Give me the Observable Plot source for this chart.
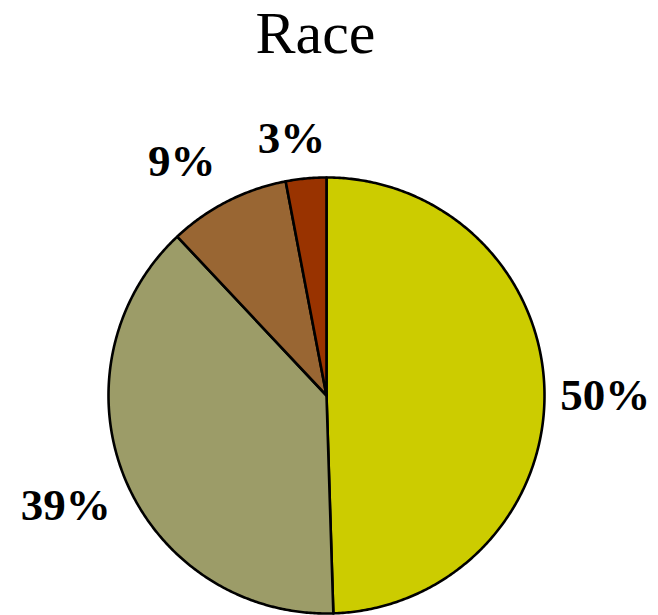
<!DOCTYPE html>
<html>
<head>
<meta charset="utf-8">
<script src="https://cdn.jsdelivr.net/npm/d3@7"></script>
<script src="https://cdn.jsdelivr.net/npm/@observablehq/plot@0.6"></script>
<style>
  html, body { margin: 0; padding: 0; background: #fff; }
  #chart { width: 658px; height: 615px; }
</style>
</head>
<body>
<div id="chart"></div>
<script>
// ---- data ----
const title = "Race";
const categories = ["A", "B", "C", "D"];
const values = [49.5, 38.5, 9.0, 3.0];
const colors = ["#CCCC00", "#9C9C68", "#996633", "#993300"];

// ---- layout (pixels) ----
const W = 658, H = 615;
const R = 218;            // pie radius in px
const CX = 326, CY = 395; // pie centre in px
const labelR = 1.27;      // label radius, in pie radii
const labelNudge = [[2, 4.9], [-5, 4.6], [-19, 12.3], [-9, 19.2]]; // px tweaks

// unit coordinates: pie radius = 1
const xDomain = [-CX / R, (W - CX) / R];
const yDomain = [-(H - CY) / R, CY / R];

const total = d3.sum(values);
let acc = 0;
const slices = values.map((v, i) => {
  const a0 = acc / total * 2 * Math.PI;
  acc += v;
  const a1 = acc / total * 2 * Math.PI;
  return {cat: categories[i], value: v, a0, a1, color: colors[i], i};
});

// polygon points per slice (angle clockwise from top)
function slicePoints(s) {
  const pts = [{x: 0, y: 0}];
  const n = Math.max(2, Math.ceil((s.a1 - s.a0) / (Math.PI / 360)));
  for (let k = 0; k <= n; k++) {
    const a = s.a0 + (s.a1 - s.a0) * k / n;
    pts.push({x: Math.sin(a), y: Math.cos(a)});
  }
  pts.push({x: 0, y: 0});
  return pts;
}

const labels = slices.map((s, i) => {
  const m = (s.a0 + s.a1) / 2;
  return {
    x: labelR * Math.sin(m) + labelNudge[i][0] / R,
    y: labelR * Math.cos(m) - labelNudge[i][1] / R,
    text: Math.round(s.value / total * 100) + "%"
  };
});

const marks = slices.map(s =>
  Plot.line(slicePoints(s), {
    x: "x", y: "y",
    fill: s.color, stroke: "#000", strokeWidth: 2.6,
    strokeLinejoin: "round", curve: "linear"
  })
);

marks.push(Plot.text(labels, {
  x: "x", y: "y", text: "text",
  fontFamily: "Liberation Serif, Times New Roman, serif",
  fontWeight: "bold", fontSize: 45, fill: "#000",
  textAnchor: "middle", lineAnchor: "middle"
}));

marks.push(Plot.text([title], {
  frameAnchor: "top", text: d => d,
  fontFamily: "Liberation Serif, Times New Roman, serif",
  fontSize: 60, fill: "#000", lineAnchor: "top", dx: -14, dy: 10
}));

const chart = Plot.plot({
  width: W, height: H,
  margin: 0,
  x: {domain: xDomain, range: [0, W], axis: null},
  y: {domain: yDomain, range: [H, 0], axis: null},
  style: {background: "#fff", overflow: "visible"},
  marks
});
document.getElementById("chart").appendChild(chart);
</script>
</body>
</html>
